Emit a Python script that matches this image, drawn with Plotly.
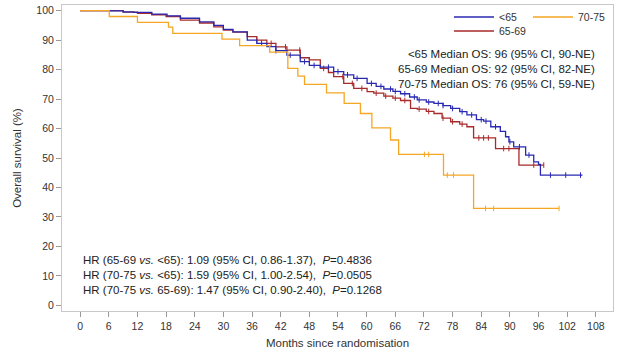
import plotly.graph_objects as go
import numpy as np

# ---- data ----
t_lt65 = [0, 3, 6.3, 9, 11.2, 15, 18.2, 21, 25, 28, 30, 32, 35, 37, 39.1, 41, 43.3, 46.1, 48, 50.3,
          53.1, 55.2, 57.3, 60.1, 62, 63.6, 65.5, 67.1, 69, 70.6, 72.5, 74.1, 76, 77.6, 79.5, 81,
          83, 84.5, 86, 88, 89.1, 89.8, 90.8, 93.3, 95.0, 96.0, 96.4, 105.2]
s_lt65 = [100, 100, 99.9, 99.6, 99.4, 98.8, 98.2, 97.4, 96.2, 95.0, 93.6, 92.8, 90.0, 88.9, 87.8, 86.4,
          84.9, 82.7, 81.4, 80.8, 79.3, 78.2, 77.0, 75.3, 74.3, 73.4, 72.6, 71.8, 70.7, 69.7, 69.0,
          68.5, 67.8, 66.8, 65.7, 64.6, 63.0, 62.5, 60.6, 59.0, 57.2, 55.5, 53.8, 51.0, 48.7, 47.8,
          44.2, 44.2]

t_6569 = [0, 5, 9, 12, 15, 18, 21, 25, 28, 30, 32, 35, 37, 39.1, 41, 43.3, 46.1, 48, 50.3, 52, 53.1,
          55.2, 57.3, 60.1, 61.5, 63.6, 65.5, 67.1, 69.2, 70.6, 72.5, 74.1, 75.8, 77.6, 79.5, 81.0,
          82.4, 87.0, 91.9, 97.1]
s_6569 = [100, 100, 99.5, 99.1, 98.6, 98.0, 96.8, 95.8, 94.5, 93.4, 92.7, 91.2, 90.0, 88.9, 87.7, 86.6,
          84.0, 83.3, 80.4, 79.0, 77.6, 75.3, 73.6, 72.5, 72.0, 71.0, 70.3, 69.5, 66.8, 66.6, 65.8,
          65.1, 63.5, 62.3, 61.5, 60.6, 56.8, 53.2, 47.6, 47.6]

t_7075 = [0, 6.1, 12.0, 18.5, 19.4, 29.7, 33.4, 39.7, 43.5, 45.6, 47.0, 51.6, 55.3, 58.7, 61.1, 65.0,
          66.7, 76.1, 82.4, 100.3]
s_7075 = [100, 98, 96, 94.4, 92.3, 90.3, 88.1, 85.9, 80.4, 77.8, 75.0, 72.1, 68.5, 65.1, 60.2, 56.1,
          51.2, 44.2, 32.9, 32.9]

cens_lt65 = [38, 41, 44, 47, 49, 52, 54, 56, 58, 61, 63, 65, 66, 68, 70, 71, 73, 75, 76, 78, 80, 82,
             84, 85, 87, 90, 92, 94, 98.5, 101.7, 104.8]
cens_6569 = [37, 40, 43, 46, 48, 51, 55, 57, 59, 62, 64, 66, 68, 71, 73, 76, 78, 80, 83.5, 84.5, 85.5,
             88.7, 89.8, 95.0, 97.1]
cens_7075 = [72.1, 73.0, 76.9, 78.2, 84.9, 86.6, 100.3]

series_names = ["<65", "65-69", "70-75"]
x_ticks = list(range(0, 109, 6))
y_ticks = list(range(0, 101, 10))

median_lines = ["<65 Median OS: 96 (95% CI, 90-NE)",
                "65-69 Median OS: 92 (95% CI, 82-NE)",
                "70-75 Median OS: 76 (95% CI, 59-NE)"]
hr_lines = ["HR (65-69 <i>vs.</i> <65): 1.09 (95% CI, 0.86-1.37),\u00a0 <i>P</i>=0.4836",
            "HR (70-75 <i>vs.</i> <65): 1.59 (95% CI, 1.00-2.54),\u00a0 <i>P</i>=0.0505",
            "HR (70-75 <i>vs.</i> 65-69): 1.47 (95% CI, 0.90-2.40),\u00a0 <i>P</i>=0.1268"]

colors = {"<65": "rgb(40,40,178)", "65-69": "rgb(168,42,42)", "70-75": "rgb(245,166,35)"}
FONT = "Liberation Sans, Arial, sans-serif"


def step_lookup(ts, ss, x):
    idx = np.searchsorted(np.array(ts), x, side="right") - 1
    return [ss[i] for i in idx]


fig = go.Figure()
curves = {"<65": (t_lt65, s_lt65, cens_lt65, "legend"),
          "65-69": (t_6569, s_6569, cens_6569, "legend3"),
          "70-75": (t_7075, s_7075, cens_7075, "legend2")}

for name in ["65-69", "<65", "70-75"]:
    ts, ss, cs, lg = curves[name]
    fig.add_trace(go.Scatter(x=ts, y=ss, mode="lines", line=dict(color=colors[name], width=1.3, shape="hv"),
                             name=name, legend=lg, showlegend=True, hoverinfo="skip"))
    fig.add_trace(go.Scatter(x=cs, y=step_lookup(ts, ss, cs), mode="markers",
                             marker=dict(symbol="line-ns", size=4, line=dict(color=colors[name], width=1)),
                             showlegend=False, hoverinfo="skip"))

leg_common = dict(font=dict(family=FONT, size=10.5, color="#333"), bgcolor="rgba(0,0,0,0)",
                  borderwidth=0, itemwidth=40, xanchor="left", yanchor="middle")

fig.update_layout(
    width=618, height=354,
    margin=dict(l=62, r=5, t=5, b=43, autoexpand=False),
    plot_bgcolor="white", paper_bgcolor="white",
    font=dict(family=FONT, color="#333"),
    legend=dict(x=(449 - 62) / 551, y=1 - (17 - 5) / 306, **leg_common),
    legend2=dict(x=(528 - 62) / 551, y=1 - (17 - 5) / 306, **leg_common),
    legend3=dict(x=(449 - 62) / 551, y=1 - (31 - 5) / 306, **leg_common),
    xaxis=dict(range=[-3.8, 111.6], tickvals=x_ticks, ticks="outside", ticklen=5, tickcolor="#999",
               showline=True, linecolor="#c8c8c8", mirror=True, showgrid=False, zeroline=False,
               tickfont=dict(size=10.5, color="#333"),
               title=dict(text="Months since randomisation", font=dict(size=11.5, color="#333"), standoff=8)),
    yaxis=dict(range=[-1.9, 101.9], tickvals=y_ticks, ticks="outside", ticklen=5, tickcolor="#999",
               showline=True, linecolor="#c8c8c8", mirror=True, showgrid=False, zeroline=False,
               tickfont=dict(size=10.5, color="#333"),
               title=dict(text="Overall survival (%)", font=dict(size=11.5, color="#333"), standoff=12)),
)

fig.add_annotation(xref="paper", yref="paper", x=(597 - 62) / 551, y=1 - (69 - 5) / 306,
                   xanchor="right", yanchor="middle", align="right", showarrow=False,
                   text="<br>".join(median_lines), font=dict(family=FONT, size=11.5, color="#222"))
fig.add_annotation(xref="paper", yref="paper", x=(81 - 62) / 551, y=1 - (275 - 5) / 306,
                   xanchor="left", yanchor="middle", align="left", showarrow=False,
                   text="<br>".join(hr_lines), font=dict(family=FONT, size=11.5, color="#222"))

fig.write_html("out.html", config={"displayModeBar": False},
               post_script="document.body.style.margin='0';")
